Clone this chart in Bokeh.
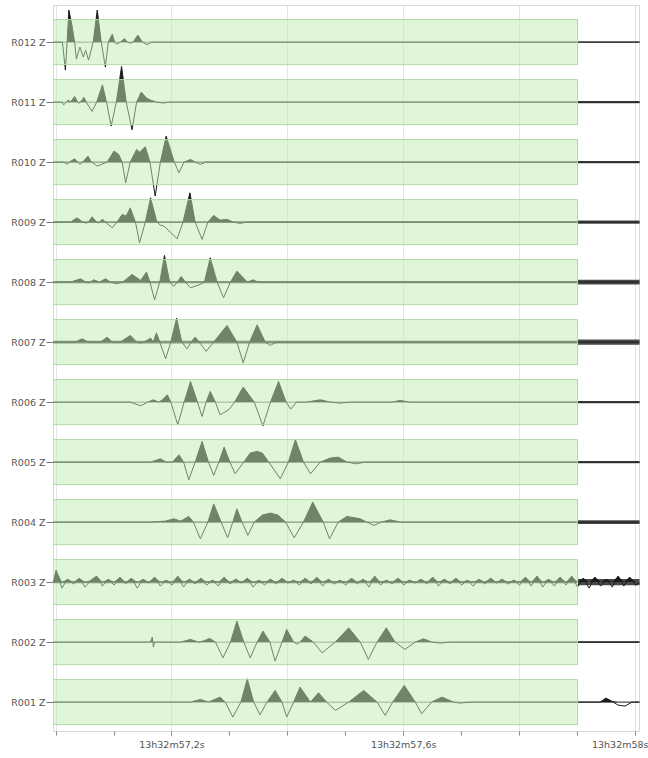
import numpy as np
from bokeh.plotting import figure
from bokeh.models import FixedTicker
from bokeh.embed import file_html
from bokeh.resources import INLINE

# Stations, top to bottom
stations = ["R012 Z", "R011 Z", "R010 Z", "R009 Z", "R008 Z", "R007 Z",
            "R006 Z", "R005 Z", "R004 Z", "R003 Z", "R002 Z", "R001 Z"]

# Time in ms after 13h32m57.0s ; amplitude in trace counts
r012_t = [-5, 11, 16, 19, 22, 27, 32, 35, 41, 47, 51, 56, 64, 71, 78, 85, 90, 97, 101, 105, 111, 118, 123, 128, 133, 141, 149, 157, 165]
r012_a = [0, 0, -28, 0, 32, 18, 0, -17, -5, -15, -8, -18, 0, 32, 0, -25, 0, 8, 0, -2, 0, 3.5, 0, -1, 0, 7, 0, -2.5, 0]

r011_t = [-5, 10, 13, 18, 21, 25, 32, 37, 39, 42, 48, 52, 62, 70, 80, 87, 95, 104, 113, 121, 131, 139, 147, 156, 163, 173, 186, 194]
r011_a = [0, 0, -2.7, 0, 2, 0, 5.7, 0, -1, 0, 4.7, 0, -9.3, 0, 17.3, 0, -24, 0, 35.7, 0, -27.7, 0, 10, 4, 2, 0, -1, 0]

r010_t = [-5, 13, 19, 23, 32, 37, 41, 46, 55, 61, 71, 88, 100, 108, 114, 120, 128, 139, 144, 154, 162, 171, 180, 190, 204, 212, 221, 232, 240, 249, 258]
r010_a = [0, 0, -2, 0, 3.3, 0, -2.3, 0, 6, 0, -4, 0, 11, 7.7, 0, -20.7, 0, 12.7, 10, 15.3, 0, -34, 0, 26, 0, -10.7, 0, 2.7, 0, -2.3, 0]

r009_t = [-5, 25, 36, 46, 52, 56, 62, 70, 73, 75, 80, 85, 97, 105, 114, 121, 128, 137, 144, 154, 163, 174, 180, 186, 197, 209, 219, 231, 240, 252, 262, 272, 283, 295, 306, 318, 328]
r009_a = [0, 0, 4.3, 0, -1, 0, 5.3, 0, -1, 0, 3, 0, -5.7, 0, 7.7, 6, 14.3, 0, -20.7, 0, 24.3, 0, -3, -4, -10, -16.7, 0, 29.3, 0, -17.3, 0, 6.7, 2, 2.7, 0, -1.3, 0]

r008_t = [-5, 25, 42, 51, 56, 59, 65, 75, 85, 94, 105, 115, 131, 146, 156, 162, 170, 179, 187, 196, 203, 209, 216, 223, 232, 249, 256, 266, 278, 289, 301, 312, 330, 340, 349]
r008_a = [0, 0, 3.3, 0, -1, 0, 2.3, 0, 3.3, 0, -1.7, 0, 7.7, 1.7, 10, 0, -17.7, 0, 26.7, 0, -4.3, 0, 5.7, 0, -5.7, -2.3, 0, 24.3, 0, -15.7, 0, 11, 0, 2.3, 0]

r007_t = [-5, 33, 45, 56, 77, 88, 97, 111, 128, 139, 146, 152, 163, 168, 173, 179, 189, 198, 208, 217, 226, 233, 240, 247, 259, 272, 295, 312, 323, 334, 347, 361, 370, 380]
r007_a = [0, 0, 3.3, 0, 0, 5, 0, 0, 6.7, 0, -1, 0, 4, 0, 9.3, 0, -16.7, 0, 24, 0, -6.7, 0, 5, 0, -9.3, 0, 16.7, 0, -20.7, 0, 17.3, 0, -3.3, 0]

r006_t = [-5, 128, 146, 158, 168, 177, 183, 192, 198, 210, 221, 232, 244, 252, 259, 266, 275, 283, 298, 308, 323, 342, 357, 370, 384, 397, 405, 415, 432, 456, 473, 490, 508, 580, 594, 610]
r006_a = [0, 0, -3.7, 0, 2.3, 0, 2, 7.3, 0, -22.7, 0, 20.7, 0, -14.3, 0, 10.7, 0, -12.7, -7.7, 0, 15, 0, -23.7, 0, 20.7, 0, -7, 0, 0, 2.3, 0, -1, 0, 0, 1.7, 0]

r005_t = [-5, 163, 180, 190, 201, 212, 220, 229, 240, 252, 263, 272, 281, 290, 300, 309, 324, 335, 347, 356, 367, 387, 401, 413, 427, 439, 456, 473, 487, 502, 519, 533]
r005_a = [0, 0, 3.3, 0, 0, 7.3, 0, -17.7, 0, 20.7, 0, -13.3, 0, 15, 0, -11.7, 0, 9, 10.7, 9, 0, -16.7, 0, 22.7, 0, -11.7, 0, 4, 5, 0, -1.7, 0]

r004_t = [-5, 163, 189, 203, 215, 229, 237, 249, 262, 272, 285, 296, 305, 312, 321, 331, 342, 356, 370, 383, 396, 411, 427, 443, 461, 472, 487, 502, 525, 536, 549, 561, 577, 594]
r004_a = [0, 0, 1, 3.3, 1, 5.7, 0, -16.7, 0, 18.3, 0, -15.7, 0, 13.3, 0, -13.3, 0, 7, 9, 7, 0, -15.7, 0, 20, 0, -16.7, 0, 5.7, 3.3, 0, -3.3, 0, 2.3, 0]

# R003: noisy record, one value every 10 ms from 0 ms
r003_dt = 10
r003_a = [12, -6, 3, -2, 4, -5, 2, 6, -4, 3, -3, 5, -2, 4, -6, 3, -1, 5, -4, 2,
          -3, 6, -5, 3, -2, 4, -3, 2, -4, 5, -2, 3, -1, 4, -5, 2, -3, 3, -2, 4,
          -1, 2, -3, 4, -2, 5, -4, 3, -2, 2, -3, 4, -2, 3, -5, 6, -3, 2, -2, 4,
          -3, 2, -1, 3, -2, 5, -4, 3, -2, 4, -3, 2, -4, 3, -2, 4, -1, 3, -2, 2,
          -3, 5, -4, 6, -5, 3, -4, 5, -3, 6, -5, 4, -6, 5, -4, 3, -5, 6, -4, 5, -3]

r002_t = [-5, 163, 166, 168, 170, 215, 232, 246, 254, 265, 275, 288, 301, 312, 324, 335, 347, 357, 369, 378, 390, 398, 410, 416, 421, 430, 444, 459, 482, 505, 525, 539, 554, 570, 585, 602, 620, 634, 649, 663, 680]
r002_a = [0, 0, 5, -5, 0, 0, 2.7, 0, 1, 3.7, 0, -15.7, 0, 21, 0, -15.7, 0, 11, 0, -19, 0, 12.7, 0, -2, 0, 6, 0, -10.7, 0, 14.3, 0, -17.3, 0, 14.3, 0, -7.3, 0, 3.3, 0, -1, 0]

r001_t = [-5, 232, 249, 263, 283, 292, 305, 319, 330, 341, 352, 364, 378, 390, 398, 410, 421, 439, 453, 467, 482, 505, 531, 554, 568, 581, 601, 620, 631, 648, 666, 686, 697, 715, 939, 949, 959, 970, 982, 994]
r001_a = [0, 0, 2.7, 0, 5, 0, -15, 0, 23.3, 0, -12.7, 0, 11.7, 0, -15, 0, 15, 0, 9.3, 0, -8.3, 0, 11.7, 0, -13.3, 0, 16.7, 0, -11.7, 0, 5, 0, -1, 0, 0, 4, 1, -3, -4, 0]

# background noise half-amplitude (counts): within window / after window
noise_in = [0.3, 0.4, 0.6, 0.8, 1.1, 1.3, 0.4, 0.6, 0.7, 1.2, 0.4, 0.4]
noise_tail = [0.7, 1.1, 1.1, 1.6, 2.4, 2.6, 1.1, 1.1, 1.8, 3.2, 0.9, 0.7]

window_end_ms = 900
x_major = [200, 600, 1000]
x_major_labels = ["13h32m57,2s", "13h32m57,6s", "13h32m58s"]
x_minor = [0, 100, 200, 300, 400, 500, 600, 700, 800, 900, 1000]

r003_t = [i * r003_dt for i in range(len(r003_a))]
traces = [(r012_t, r012_a), (r011_t, r011_a), (r010_t, r010_a), (r009_t, r009_a),
          (r008_t, r008_a), (r007_t, r007_a), (r006_t, r006_a), (r005_t, r005_a),
          (r004_t, r004_a), (r003_t, r003_a), (r002_t, r002_a), (r001_t, r001_a)]

X0, X1 = -4.5, 1007
Y0, Y1 = 0.51, len(stations) + 0.61
COUNTS_PER_ROW = 60.0
n = len(stations)

p = figure(width=648, height=758, x_range=(X0, X1), y_range=(Y0, Y1),
           output_backend="svg", toolbar_location=None,
           min_border_left=53, min_border_right=9, min_border_top=5, min_border_bottom=27)
p.outline_line_color = "#d9d9d9"
p.background_fill_color = "white"
p.border_fill_color = "white"

ink = "#1c1c1c"
for i, (name, (t, a)) in enumerate(zip(stations, traces)):
    base = n - i
    t = list(t); a = list(a)
    if t[0] > -5:
        t = [-5] + t; a = [0] + a
    if t[-1] < 1010:
        t = t + [1010]; a = a + [0]
    t = np.array(t, dtype=float); a = np.array(a, dtype=float)
    nt = [-5, window_end_ms, window_end_ms, 1010]
    nh = np.array([noise_in[i], noise_in[i], noise_tail[i], noise_tail[i]]) / COUNTS_PER_ROW
    p.varea(x=nt, y1=base - nh, y2=base + nh, fill_color=ink, fill_alpha=0.8)
    p.varea(x=t, y1=np.full(len(t), base), y2=base + np.maximum(a, 0) / COUNTS_PER_ROW,
            fill_color=ink)
    p.line(t, base + a / COUNTS_PER_ROW, line_color=ink, line_width=1)

# green analysis windows
h = 0.375
bases = [n - i for i in range(n)]
p.quad(left=[-10] * n, right=[window_end_ms] * n,
       bottom=[b - h for b in bases], top=[b + h for b in bases],
       fill_color="#c2edb8", fill_alpha=0.5, line_color="#b0dba3", line_width=1)

# axes
p.yaxis.ticker = FixedTicker(ticks=bases)
p.yaxis.major_label_overrides = {b: s for b, s in zip(bases, stations)}
p.yaxis.axis_line_color = None
p.yaxis.major_tick_in = 0
p.yaxis.major_tick_out = 7
p.yaxis.major_tick_line_color = "#777777"
p.yaxis.minor_tick_line_color = None
p.yaxis.major_label_standoff = 1
p.yaxis.major_label_text_font = "DejaVu Sans"
p.yaxis.major_label_text_font_size = "9.5px"
p.yaxis.major_label_text_color = "#555555"

p.xaxis.ticker = FixedTicker(ticks=x_major, minor_ticks=x_minor)
p.xaxis.major_label_overrides = {t: s for t, s in zip(x_major, x_major_labels)}
p.xaxis.axis_line_color = None
p.xaxis.major_tick_in = 0
p.xaxis.major_tick_out = 0
p.xaxis.minor_tick_in = 0
p.xaxis.minor_tick_out = 4
p.xaxis.minor_tick_line_color = "#888888"
p.xaxis.major_label_standoff = 3
p.xaxis.major_label_text_font = "DejaVu Sans"
p.xaxis.major_label_text_font_size = "9.5px"
p.xaxis.major_label_text_color = "#555555"

p.xgrid.ticker = FixedTicker(ticks=[0, 200, 400, 600, 800, 1000])
p.xgrid.grid_line_color = "#e4e4e4"
p.ygrid.grid_line_color = None

open("out.html", "w").write(file_html(p, INLINE))
